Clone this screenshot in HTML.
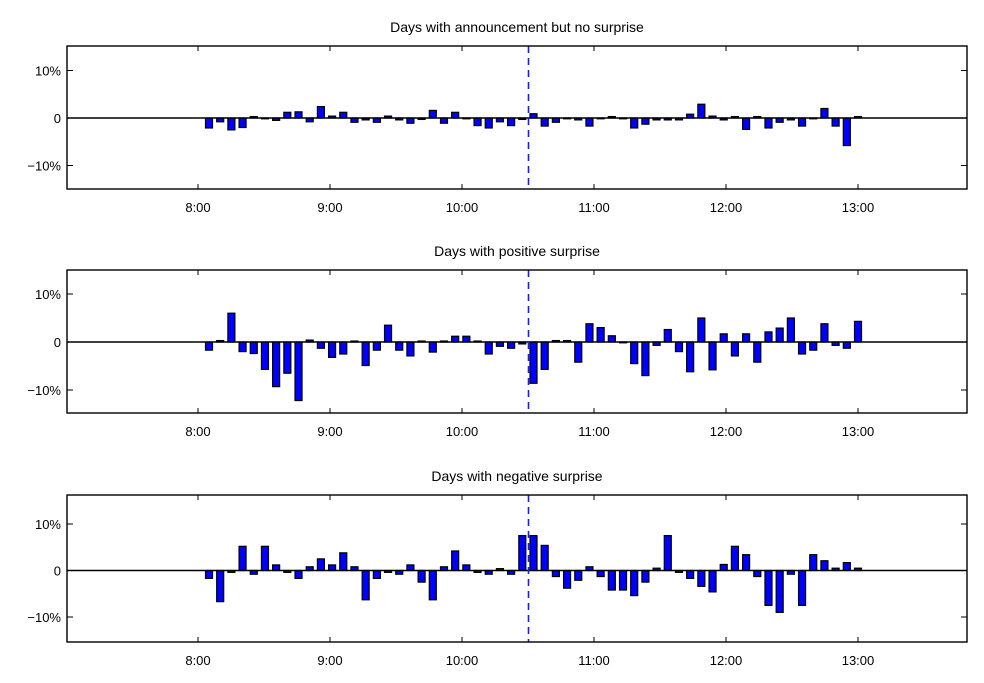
<!DOCTYPE html>
<html><head><meta charset="utf-8"><style>
html,body{margin:0;padding:0;background:#fff;}
svg text{font-family:"Liberation Sans",sans-serif;fill:#000;}
</style></head><body>
<svg id="chart" width="984" height="678" xmlns="http://www.w3.org/2000/svg"></svg>
<script>
const timeLabels = ["8:00","9:00","10:00","11:00","12:00","13:00"];
const yTickLabels = ["10%","0","\u221210%"];
const yTickValues = [10,0,-10];
const titles = ["Days with announcement but no surprise","Days with positive surprise","Days with negative surprise"];
const noSurprise = [-2.1,-0.8,-2.5,-2.0,0.3,0,-0.5,1.2,1.3,-0.8,2.4,0.4,1.2,-0.9,-0.4,-0.9,0.4,-0.4,-1.1,-0.3,1.6,-1.1,1.2,0,-1.6,-2.1,-0.8,-1.6,-0.3,
 0.9,-1.7,-0.9,0,-0.4,-1.7,0,0.3,0,-2.1,-1.3,-0.4,-0.4,-0.4,0.8,2.9,0.4,-0.4,0.3,-2.4,0.3,-2.1,-0.9,-0.4,-1.7,0,2.0,-1.7,-5.8,0.3];
const positiveSurprise = [-1.7,0.3,6.0,-2.0,-2.4,-5.7,-9.3,-6.5,-12.2,0.4,-1.3,-3.2,-2.5,0.2,-4.9,-1.7,3.5,-1.7,-2.9,0.2,-2.1,0.2,1.2,1.2,0.2,-2.5,-0.9,-1.3,-0.4,
 -8.6,-5.7,0.3,0.3,-4.2,3.8,3.0,1.3,0,-4.5,-7.0,-0.7,2.6,-2.0,-6.2,5.0,-5.8,1.7,-2.9,1.7,-4.2,2.1,2.9,5.0,-2.5,-1.7,3.8,-0.7,-1.3,4.3];
const negativeSurprise = [-1.7,-6.7,-0.4,5.2,-0.8,5.2,1.2,-0.4,-1.7,0.8,2.5,1.2,3.8,0.8,-6.3,-1.7,-0.4,-0.8,1.2,-2.5,-6.3,0.8,4.2,1.2,-0.4,-0.8,0.4,-0.8,7.5,
 7.5,5.4,-1.3,-3.8,-2.1,0.8,-1.3,-4.2,-4.2,-5.4,-2.5,0.5,7.5,-0.4,-1.7,-3.4,-4.6,1.3,5.2,3.4,-1.3,-7.5,-9.0,-0.8,-7.5,3.4,2.1,0.5,1.7,0.5];
const series = [noSurprise, positiveSurprise, negativeSurprise];
const names = ["no-surprise","positive-surprise","negative-surprise"];

const NS="http://www.w3.org/2000/svg";
const svg=document.getElementById('chart');
const L=67,R=967;
const panels=[{top:46,bot:189,zero:118,s:4.75},{top:270,bot:413,zero:342,s:4.8},{top:495,bot:642,zero:570.5,s:4.65}];
const tickX = i => 198 + i*132;          // hour ticks
const barX = i => 209 + i*(649/58);      // bar index -> x
const dashX = 528.5;
function mk(tag,attrs,parent){const e=document.createElementNS(NS,tag);for(const k in attrs)e.setAttribute(k,attrs[k]);(parent||svg).appendChild(e);return e;}

panels.forEach((p,pi)=>{
  const g=mk('g',{});
  
  
  const yv=v=>p.zero - v*p.s;
  const t=mk('text',{x:517,y:p.top-14,'text-anchor':'middle','font-size':'14'},g);
  t.textContent=titles[pi];
  
  
  // bars
  series[pi].forEach((v,i)=>{
    const x=barX(i);
    const y0=yv(0), y1=yv(v);
    const b=mk('rect',{x:x-3.5,y:Math.min(y0,y1),width:7,height:Math.max(Math.abs(y1-y0),0.8),fill:'#0000ff',stroke:'#000','stroke-width':1.2},g);
    
    
  });
  const z=mk('line',{x1:L,x2:R,y1:yv(0),y2:yv(0),stroke:'#000','stroke-width':1.4},g);
  
  
  const d=mk('line',{x1:dashX,x2:dashX,y1:p.top,y2:p.bot,stroke:'#1a1aff','stroke-width':1.6,'stroke-dasharray':'7,5'},g);
  
  
  const box=mk('rect',{x:L,y:p.top,width:R-L,height:p.bot-p.top,fill:'none',stroke:'#000','stroke-width':1.4},g);
  
  
  timeLabels.forEach((lab,i)=>{
    const x=tickX(i);
    mk('line',{x1:x,x2:x,y1:p.top,y2:p.top+5,stroke:'#000'},g);
    mk('line',{x1:x,x2:x,y1:p.bot,y2:p.bot-5,stroke:'#000'},g);
    const tx=mk('text',{x:x,y:p.bot+23,'text-anchor':'middle','font-size':'13'},g);
    tx.textContent=lab;
    
    
  });
  yTickValues.forEach((v,i)=>{
    const y=yv(v);
    mk('line',{x1:L,x2:L+6,y1:y,y2:y,stroke:'#000'},g);
    mk('line',{x1:R,x2:R-6,y1:y,y2:y,stroke:'#000'},g);
    const ty=mk('text',{x:L-6,y:y+5,'text-anchor':'end','font-size':'13'},g);
    ty.textContent=yTickLabels[i];
    
    
  });
});
</script>
</body></html>
